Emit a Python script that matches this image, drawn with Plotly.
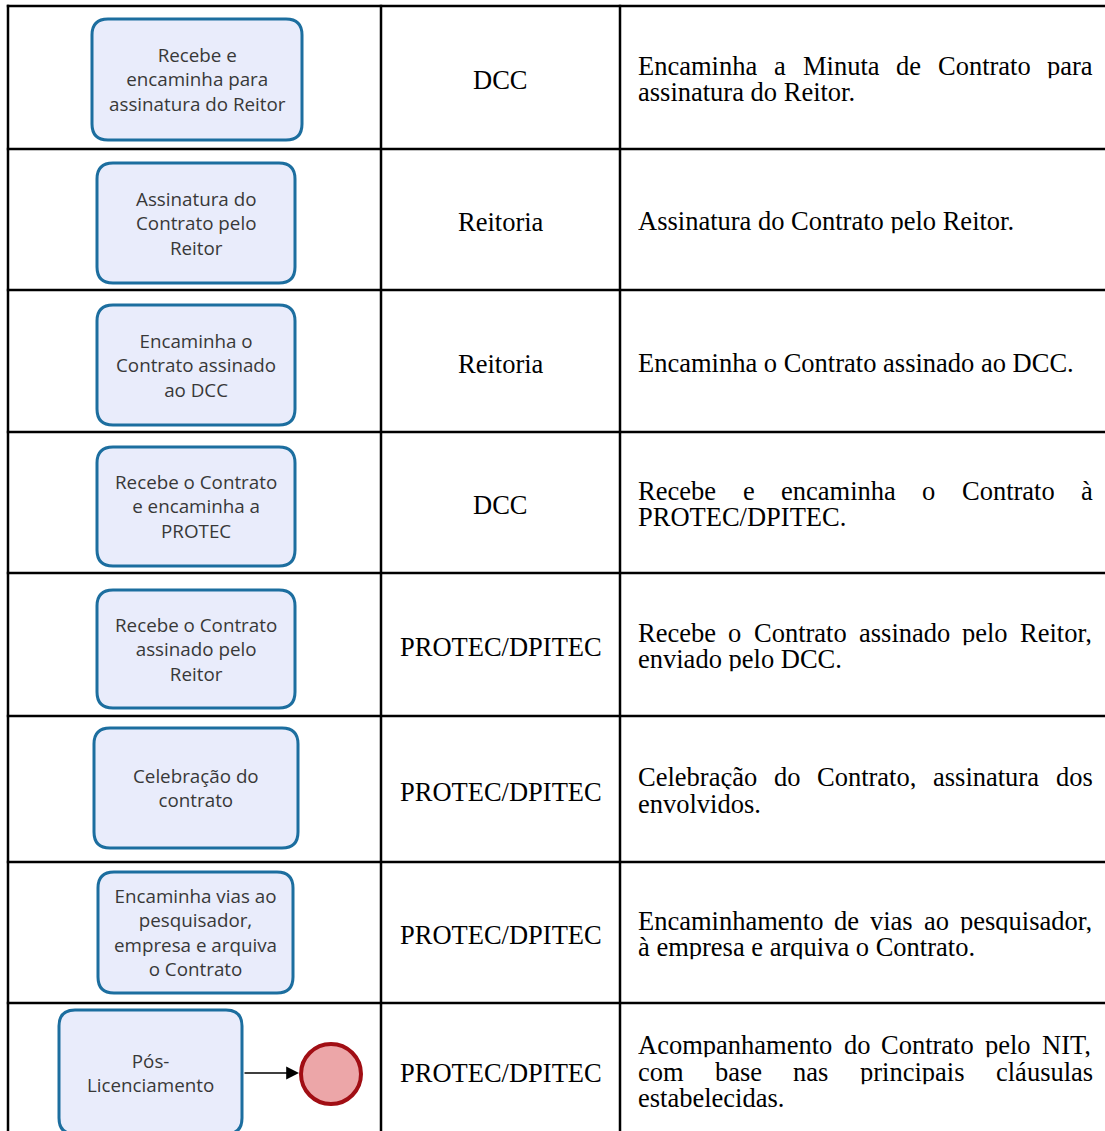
import plotly.graph_objects as go

# ---------------- data ----------------
tasks = [
    ["Recebe e", "encaminha para", "assinatura do Reitor"],
    ["Assinatura do", "Contrato pelo", "Reitor"],
    ["Encaminha o", "Contrato assinado", "ao DCC"],
    ["Recebe o Contrato", "e encaminha a", "PROTEC"],
    ["Recebe o Contrato", "assinado pelo", "Reitor"],
    ["Celebração do", "contrato"],
    ["Encaminha vias ao", "pesquisador,", "empresa e arquiva", "o Contrato"],
    ["Pós-", "Licenciamento"],
]
responsible = ["DCC", "Reitoria", "Reitoria", "DCC", "PROTEC/DPITEC",
               "PROTEC/DPITEC", "PROTEC/DPITEC", "PROTEC/DPITEC"]
descriptions = [
    ["Encaminha a Minuta de Contrato para", "assinatura do Reitor."],
    ["Assinatura do Contrato pelo Reitor."],
    ["Encaminha o Contrato assinado ao DCC."],
    ["Recebe e encaminha o Contrato à", "PROTEC/DPITEC."],
    ["Recebe o Contrato assinado pelo Reitor,", "enviado pelo DCC."],
    ["Celebração do Contrato, assinatura dos", "envolvidos."],
    ["Encaminhamento de vias ao pesquisador,", "à empresa e arquiva o Contrato."],
    ["Acompanhamento do Contrato pelo NIT,", "com base nas principais cláusulas", "estabelecidas."],
]

# ---------------- layout (screen pixels) ----------------
W, H = 1105, 1131
row_edges = [6, 149, 290, 432, 573, 716, 862, 1003, 1145]
left_x, col1_x, col2_x = 8, 381, 620
# box geometry per row: (x0, x1, top pad, bottom pad)
box_geom = [(92, 302, 13, 9), (97, 295, 14, 7), (97, 295, 15, 7), (97, 295, 15, 7),
            (97, 295, 17, 8), (94, 298, 12, 14), (98, 293, 10, 10), (59, 242, 7, 11)]

SERIF = "Liberation Serif, Times New Roman, serif"
SANS = "Open Sans, Segoe UI, sans-serif"
FS_SERIF = 26.5
FS_SANS = 18.8

# Times-Roman metrics (per 1000 em) for justification
tw = {' ': 250, 'a': 444, 'b': 500, 'c': 444, 'd': 500, 'e': 444, 'f': 333, 'g': 500, 'h': 500,
      'i': 278, 'j': 278, 'k': 500, 'l': 278, 'm': 778, 'n': 500, 'o': 500, 'p': 500, 'q': 500,
      'r': 333, 's': 389, 't': 278, 'u': 500, 'v': 500, 'w': 722, 'x': 500, 'y': 500, 'z': 444,
      'A': 722, 'B': 667, 'C': 667, 'D': 722, 'E': 611, 'F': 556, 'G': 722, 'H': 722, 'I': 333,
      'J': 389, 'K': 722, 'L': 611, 'M': 889, 'N': 722, 'O': 722, 'P': 556, 'Q': 722, 'R': 667,
      'S': 556, 'T': 611, 'U': 722, 'V': 722, 'W': 944, 'X': 722, 'Y': 722, 'Z': 611,
      '.': 250, ',': 250, '/': 278, '-': 333, 'à': 444, 'á': 444, 'ç': 444, 'ã': 444, 'ó': 500}


def text_w(s, fs):
    return sum(tw.get(ch, 500) for ch in s) * fs / 1000.0


shapes = []
annotations = []
line_col = "black"
LW = 2.5

# table lines
for y in row_edges[:-1]:
    shapes.append(dict(type="line", x0=left_x - 1.2, x1=W + 20, y0=y, y1=y, line=dict(color=line_col, width=LW)))
for x in (left_x, col1_x, col2_x):
    shapes.append(dict(type="line", x0=x, x1=x, y0=row_edges[0] - 1.2, y1=H + 20,
                       line=dict(color=line_col, width=LW)))


def rounded_path(x0, y0, x1, y1, r):
    return (f"M {x0+r},{y0} L {x1-r},{y0} Q {x1},{y0} {x1},{y0+r} L {x1},{y1-r} "
            f"Q {x1},{y1} {x1-r},{y1} L {x0+r},{y1} Q {x0},{y1} {x0},{y1-r} "
            f"L {x0},{y0+r} Q {x0},{y0} {x0+r},{y0} Z")


BOX_FILL = "#E9ECFB"
BOX_LINE = "#1C6E9F"
BOX_TXT = "#383838"
LH_SERIF = 26.3
right_x = 1091
left_text = 636


def txt(x, y, s, family, size, color, xanchor, h=None):
    d = dict(x=x, y=y, text=s, showarrow=False, xanchor=xanchor, yanchor="middle",
             valign="middle", font=dict(family=family, size=size, color=color))
    if h is not None:
        d["height"] = h
    return d


for i in range(len(tasks)):
    y0, y1 = row_edges[i], row_edges[i + 1]
    bx0, bx1, pt, pb = box_geom[i]
    by0, by1 = y0 + pt, y1 - pb
    last = i == len(tasks) - 1
    if last:
        by1 = y0 + 131
    shapes.append(dict(type="path", path=rounded_path(bx0, by0, bx1, by1, 16),
                       fillcolor=BOX_FILL, line=dict(color=BOX_LINE, width=3)))
    cy = (by0 + by1) / 2 if not last else 1073
    annotations.append(txt((bx0 + bx1) / 2, cy, "<br>".join(tasks[i]), SANS, FS_SANS, BOX_TXT, "center"))
    # responsible column
    rc = (y0 + y1) / 2 + 1 if not last else 1071
    annotations.append(txt((col1_x + col2_x) / 2, rc + 1, responsible[i], SERIF, FS_SERIF, "black",
                           "center", LH_SERIF - 1))
    # description column (justified)
    lines = descriptions[i]
    m = len(lines)
    for k, ln in enumerate(lines):
        ly = rc + (k - (m - 1) / 2) * LH_SERIF
        words = ln.split(" ")
        if k < m - 1 and len(words) > 1:
            tot = sum(text_w(w, FS_SERIF) for w in words)
            gap = (right_x - left_text - tot) / (len(words) - 1)
            x = left_text
            for w in words:
                annotations.append(txt(x, ly, w, SERIF, FS_SERIF, "black", "left", LH_SERIF - 1))
                x += text_w(w, FS_SERIF) + gap
        else:
            annotations.append(txt(left_text, ly, ln, SERIF, FS_SERIF, "black", "left", LH_SERIF - 1))

# end event + arrow in last row
cx, cyc, r = 331, 1074, 30
shapes.append(dict(type="circle", x0=cx - r, x1=cx + r, y0=cyc - r, y1=cyc + r,
                   fillcolor="#ECA6A8", line=dict(color="#A10E14", width=4)))
annotations.append(dict(x=cx - r - 2, y=1073, ax=box_geom[-1][1] + 1, ay=1073, axref="x", ayref="y",
                        xref="x", yref="y", showarrow=True, arrowhead=2, arrowsize=1.6,
                        arrowwidth=1.6, arrowcolor="black", text=""))

fig = go.Figure()
fig.add_trace(go.Scatter(x=[0, W], y=[0, H], mode="markers", marker=dict(opacity=0),
                         hoverinfo="skip", showlegend=False))
fig.update_layout(width=W, height=H, margin=dict(l=0, r=0, t=0, b=0),
                  paper_bgcolor="white", plot_bgcolor="white",
                  xaxis=dict(range=[0, W], visible=False, fixedrange=True),
                  yaxis=dict(range=[H, 0], visible=False, fixedrange=True),
                  shapes=shapes, annotations=annotations, showlegend=False)
fig.write_html("out.html", config={"displayModeBar": False},
               post_script="document.body.style.margin='0px';")
